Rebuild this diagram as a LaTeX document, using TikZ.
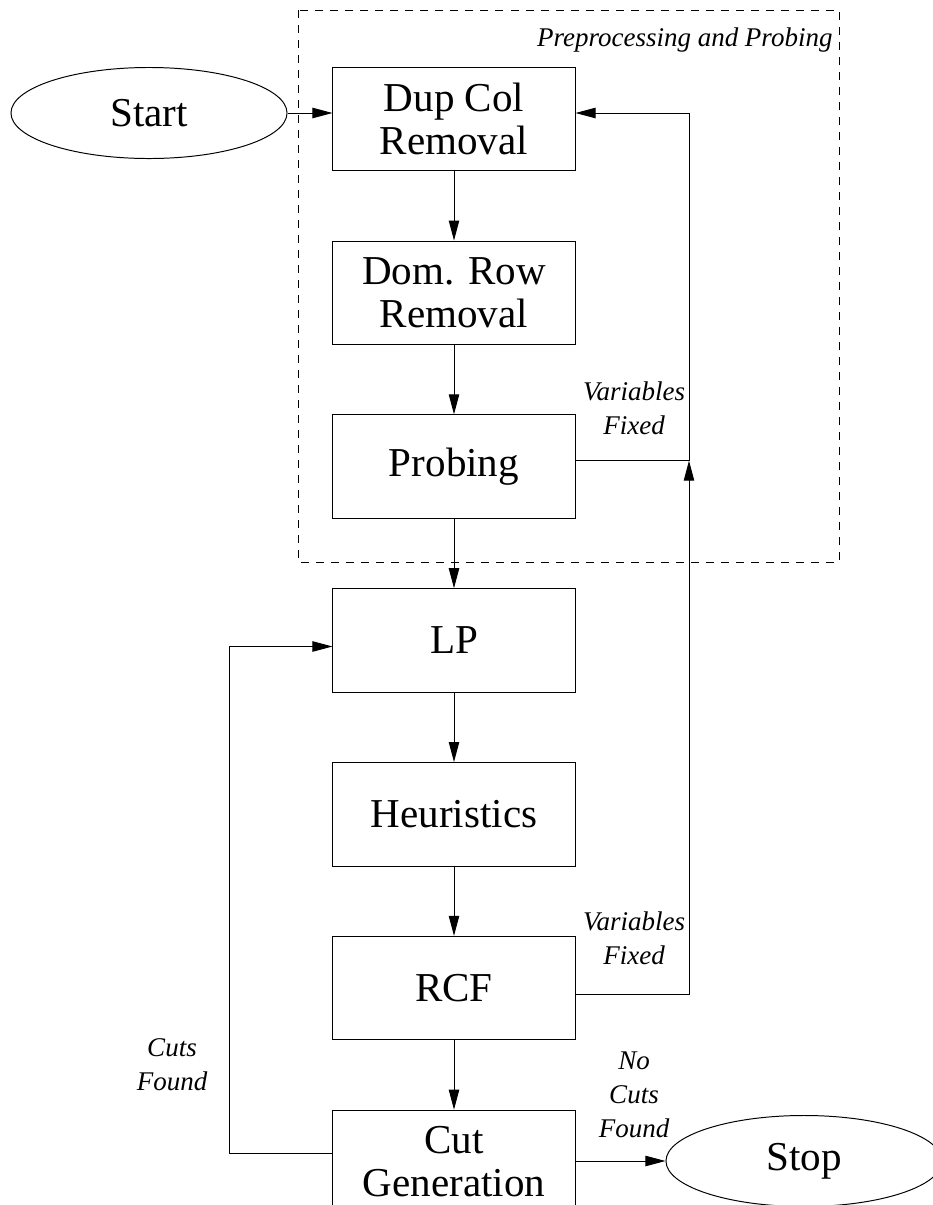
\documentclass[tikz,border=0pt]{standalone}
\usepackage{fontspec}
\setmainfont{Liberation Serif}
\usetikzlibrary{arrows.meta,shapes.geometric,positioning,calc}

\begin{document}
\begin{tikzpicture}[
        x=0.025cm, y=-0.025cm,
        node distance=1.73cm,
        box/.style={rectangle,draw,minimum width=6.05cm,minimum height=2.59cm,
                    align=center,inner sep=0pt,font=\fontsize{29.2}{30.6}\selectfont},
        term/.style={ellipse,draw,minimum width=6.9cm,minimum height=2.275cm,
                     inner sep=0pt,font=\fontsize{29.2}{30.6}\selectfont},
        lbl/.style={align=center,inner sep=0pt,
                    font=\fontsize{19.2}{24.2}\selectfont\itshape},
        >={Triangle[length=0.5cm,width=0.26cm]}, line width=0.7pt
      ]
      \useasboundingbox (0,0) rectangle (933,1205);
      % preprocessing stage
      \draw[dash pattern=on 0.2cm off 0.175cm] (298,10) rectangle (839,562);
      \node[lbl,anchor=base east] (PPL) at (833,46) {Preprocessing and Probing};

      \node[term] (Start) at (149,113) {Start};
      \node[box] (Dup) at (454,119) {Dup Col\\Removal};
      \node[box] (Dom)  [below=of Dup]  {Dom. Row\\Removal};
      \node[box] (Prob) [below=of Dom]  {Probing};
      \node[box] (LP)   [below=of Prob] {LP};
      \node[box] (Heur) [below=of LP]   {Heuristics};
      \node[box] (RCF)  [below=of Heur] {RCF};
      \node[box] (Cut)  [below=of RCF]  {Cut\\Generation};
      \node[term] (Stop) at (804,1161) {Stop};

      \coordinate (Rx) at (689,0);
      \coordinate (Lx) at (229,0);
      \coordinate (ProbOut) at ([yshift=0.15cm]Prob.east);
      \coordinate (LPin) at ([yshift=-0.15cm]LP.west);

      \node[lbl] (VF1) at (634,408)  {Variables\\Fixed};
      \node[lbl] (VF2) at (634,938)  {Variables\\Fixed};
      \node[lbl] (CF)  at (172,1065) {Cuts\\Found};
      \node[lbl] (NCF) at (634,1095) {No\\Cuts\\Found};

      \draw[->] (Start) -- (Start.east -| Dup.west);
      \draw[->] (Dup) -- (Dom);
      \draw[->] (Dom) -- (Prob);
      \draw[->] (Prob) -- (LP);
      \draw[->] (LP) -- (Heur);
      \draw[->] (Heur) -- (RCF);
      \draw[->] (RCF) -- (Cut);
      \draw[->] (ProbOut) -| (Rx |- Start.east) -- (Start.east -| Dup.east);
      \draw[->] ([yshift=-0.15cm]RCF.east) -| (Rx |- ProbOut);
      \draw[->] ([yshift=0.2cm]Cut.west) -| (Lx |- LPin) -- (LPin);
      \draw[->] (Cut.east |- Stop.west) -- (Stop.west);
    \end{tikzpicture}
\end{document}
